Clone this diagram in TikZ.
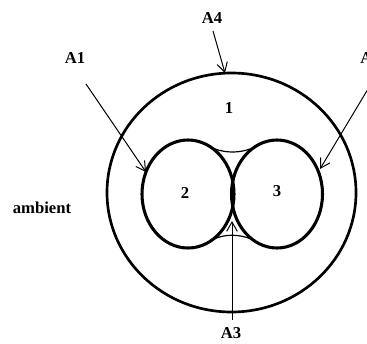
\documentclass[tikz,border=0pt]{standalone}
\usepackage{fontspec}
\setmainfont{Liberation Serif}
\usetikzlibrary{arrows.meta}
\begin{document}
\begin{tikzpicture}[x=0.75pt,y=-0.75pt,
  lbl/.style={font=\fontsize{12.5}{14}\selectfont\bfseries, inner sep=0pt},
  thick line/.style={line width=2.3pt},
  arr/.style={line width=0.75pt, -{Straight Barb[length=7pt,width=8pt]}},
  thin/.style={line width=0.9pt}]
\useasboundingbox (0,0) rectangle (367,343);
% outer circle
\draw[line width=2pt] (231.5,192.5) ellipse [x radius=124.5, y radius=119.5];
% ellipses
\draw[thick line] (188,194) ellipse [x radius=46, y radius=54];
\draw[thick line] (277,194) ellipse [x radius=45.5, y radius=54];
% menisci
\draw[thin] (215,149) .. controls (226,153) and (239,153) .. (250,149);
\draw[thin] (214,239) .. controls (225,234) and (239,234) .. (251,239);
% labels
\node[lbl] (one) at (229,108) {1};
\node[lbl] (two) at (185,193) {2};
\node[lbl] (three) at (277,191) {3};
\node[lbl] (amb) at (42,208) {ambient};
\node[lbl] (A1) at (75,58) {A1};
\node[lbl] (A4) at (212,18) {A4};
\node[lbl, anchor=west] (A2) at (360,58) {A2};
\node[lbl] (A3) at (231,333) {A3};
% arrow endpoints
\coordinate (s1) at (86,84);
\coordinate (e1) at (146,172);
\coordinate (s4) at (213,31);
\coordinate (e4) at (225,73);
\coordinate (s2) at (368,89);
\coordinate (e2) at (320,169);
\coordinate (s3) at (232,320);
\coordinate (e3) at (232,221);
\draw[arr] (s1) -- (e1);
\draw[arr] (s4) -- (e4);
\draw[arr] (s2) -- (e2);
\draw[arr] (s3) -- (e3);
\end{tikzpicture}
\end{document}
